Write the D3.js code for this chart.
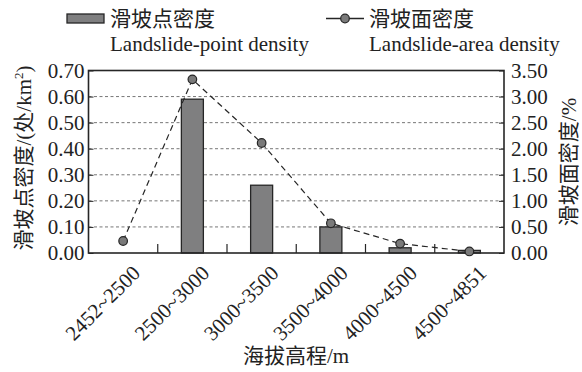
<!DOCTYPE html>
<html>
<head>
<meta charset="utf-8">
<script src="https://cdn.jsdelivr.net/npm/d3@7"></script>
<style>
  html, body { margin: 0; padding: 0; background: #fff; }
  svg text { font-family: "Liberation Serif", "Times New Roman", "Noto Sans CJK SC", serif; fill: #222; }
</style>
</head>
<body>
<svg id="chart" width="582" height="372"></svg>
<script>
// Elevation bands
const categories = ["2452~2500", "2500~3000", "3000~3500", "3500~4000", "4000~4500", "4500~4851"];
// Landslide-point density (处/km²), left axis
const pointDensity = [0, 0.59, 0.26, 0.10, 0.02, 0.01];
// Landslide-area density (%), right axis
const areaDensity = [0.23, 3.33, 2.11, 0.57, 0.18, 0.03];
const leftTicks = [0, 0.1, 0.2, 0.3, 0.4, 0.5, 0.6, 0.7];
const rightTicks = [0, 0.5, 1.0, 1.5, 2.0, 2.5, 3.0, 3.5];

const svg = d3.select("#chart");
const plot = { left: 88.5, right: 504, top: 70.5, bottom: 253 };
const ink = "#262626";
const barFill = "#7f7f80";
const fs = 21;

const x = d3.scaleBand().domain(categories).range([plot.left, plot.right]);
const yL = d3.scaleLinear().domain([0, 0.7]).range([plot.bottom, plot.top]);
const yR = d3.scaleLinear().domain([0, 3.5]).range([plot.bottom, plot.top]);

// horizontal dashed grid
svg.append("g").selectAll("line")
  .data(leftTicks.filter(t => t > 0 && t < 0.7))
  .join("line")
  .attr("x1", plot.left).attr("x2", plot.right)
  .attr("y1", d => yL(d)).attr("y2", d => yL(d))
  .attr("stroke", "#666").attr("stroke-width", 0.9)
  .attr("stroke-dasharray", "3,2.5");

// bars
const barW = 22;
svg.append("g").selectAll("rect")
  .data(categories.map((c, i) => ({ c, v: pointDensity[i] })).filter(d => d.v > 0))
  .join("rect")
  .attr("x", d => x(d.c) + x.bandwidth() / 2 - barW / 2)
  .attr("y", d => yL(d.v))
  .attr("width", barW)
  .attr("height", d => plot.bottom - yL(d.v))
  .attr("fill", barFill).attr("stroke", ink).attr("stroke-width", 1.3);

// left axis
const axL = svg.append("g").attr("transform", `translate(${plot.left},0)`)
  .call(d3.axisLeft(yL).tickValues(leftTicks).tickFormat(d3.format(".2f"))
    .tickSizeInner(-5).tickSizeOuter(0).tickPadding(4));
// right axis
const axR = svg.append("g").attr("transform", `translate(${plot.right},0)`)
  .call(d3.axisRight(yR).tickValues(rightTicks).tickFormat(d3.format(".2f"))
    .tickSizeInner(-5).tickSizeOuter(0).tickPadding(7));
[axL, axR].forEach(ax => {
  ax.select(".domain").remove();
  ax.selectAll("line").attr("stroke", ink).attr("stroke-width", 1);
  ax.selectAll("text").attr("font-size", fs).attr("fill", "#222")
    .attr("font-family", "Liberation Serif, serif");
});

// bottom axis: inner ticks at band boundaries, rotated labels
const boundaries = categories.slice(1).map(c => x(c));
svg.append("g").selectAll("line")
  .data(boundaries).join("line")
  .attr("x1", d => d).attr("x2", d => d)
  .attr("y1", plot.bottom).attr("y2", plot.bottom - 9)
  .attr("stroke", ink).attr("stroke-width", 1.2);

svg.append("g").selectAll("text")
  .data(categories).join("text")
  .attr("transform", d => `translate(${x(d) + x.bandwidth() / 2 + 8},${plot.bottom + 11}) rotate(-45)`)
  .attr("text-anchor", "end")
  .attr("dy", "0.7em")
  .attr("font-size", fs)
  .text(d => d);

// frame
svg.append("rect")
  .attr("x", plot.left).attr("y", plot.top)
  .attr("width", plot.right - plot.left).attr("height", plot.bottom - plot.top)
  .attr("fill", "none").attr("stroke", ink).attr("stroke-width", 1.6);

// area-density line
const pts = categories.map((c, i) => [x(c) + x.bandwidth() / 2, yR(areaDensity[i])]);
svg.append("path")
  .attr("d", d3.line()(pts))
  .attr("fill", "none").attr("stroke", ink).attr("stroke-width", 1.2)
  .attr("stroke-dasharray", "6,4");
svg.append("g").selectAll("circle")
  .data(pts).join("circle")
  .attr("cx", d => d[0]).attr("cy", d => d[1]).attr("r", 4.3)
  .attr("fill", "#7a7a7a").attr("stroke", ink).attr("stroke-width", 1.2);

// axis titles
svg.append("text")
  .attr("transform", `translate(31,158) rotate(-90)`)
  .attr("text-anchor", "middle").attr("font-size", fs)
  .call(t => {
    t.append("tspan").text("滑坡点密度/(处/km");
    t.append("tspan").attr("font-size", 13).attr("dy", -8).text("2");
    t.append("tspan").attr("dy", 8).text(")");
  });
svg.append("text")
  .attr("transform", `translate(576,162) rotate(-90)`)
  .attr("text-anchor", "middle").attr("font-size", fs)
  .text("滑坡面密度/%");
svg.append("text")
  .attr("x", 296).attr("y", 363)
  .attr("text-anchor", "middle").attr("font-size", fs)
  .text("海拔高程/m");

// legend
const lg = svg.append("g");
lg.append("rect").attr("x", 67).attr("y", 14).attr("width", 37).attr("height", 9)
  .attr("fill", barFill).attr("stroke", ink).attr("stroke-width", 1.3);
lg.append("text").attr("x", 110).attr("y", 26).attr("font-size", fs).text("滑坡点密度");
lg.append("text").attr("x", 110).attr("y", 51).attr("font-size", fs).text("Landslide-point density");
lg.append("line").attr("x1", 326).attr("x2", 364).attr("y1", 18.5).attr("y2", 18.5)
  .attr("stroke", ink).attr("stroke-width", 1.3);
lg.append("circle").attr("cx", 345).attr("cy", 18.5).attr("r", 4.3)
  .attr("fill", "#7a7a7a").attr("stroke", ink).attr("stroke-width", 1.2);
lg.append("text").attr("x", 369).attr("y", 26).attr("font-size", fs).text("滑坡面密度");
lg.append("text").attr("x", 369).attr("y", 51).attr("font-size", fs).text("Landslide-area density");
</script>
</body>
</html>
